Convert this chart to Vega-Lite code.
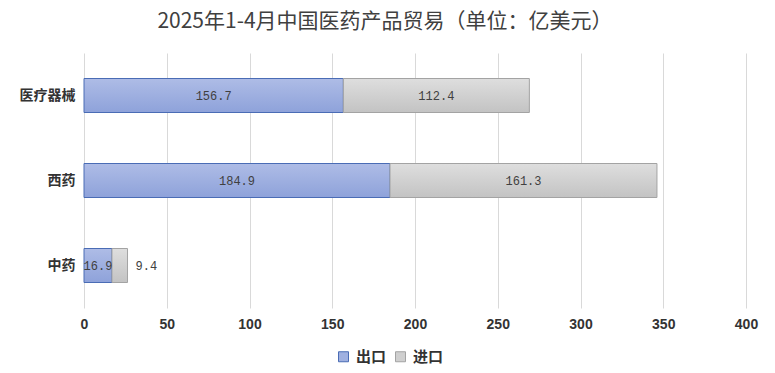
{
  "$schema": "https://vega.github.io/schema/vega-lite/v6.json",
  "width": 662,
  "height": 255,
  "autosize": {"type": "none"},
  "padding": {"left": 84, "top": 53, "right": 29, "bottom": 65},
  "background": "white",
  "title": {
    "text": "2025年1-4月中国医药产品贸易（单位：亿美元）",
    "font": "Noto Sans CJK SC",
    "fontSize": 21,
    "fontWeight": "normal",
    "color": "#404040",
    "anchor": "middle",
    "frame": "group",
    "dx": -30,
    "offset": 21
  },
  "config": {
    "view": {"stroke": null},
    "font": "Noto Sans CJK SC"
  },
  "data": {
    "values": [
      {"cat": "医疗器械", "type": "出口", "value": 156.7},
      {"cat": "医疗器械", "type": "进口", "value": 112.4},
      {"cat": "西药", "type": "出口", "value": 184.9},
      {"cat": "西药", "type": "进口", "value": 161.3},
      {"cat": "中药", "type": "出口", "value": 16.9},
      {"cat": "中药", "type": "进口", "value": 9.4}
    ]
  },
  "transform": [
    {"stack": "value", "groupby": ["cat"], "sort": [{"field": "type", "order": "ascending"}], "as": ["x0", "x1"]},
    {"calculate": "(datum.x0 + datum.x1) / 2", "as": "mid"}
  ],
  "encoding": {
    "y": {
      "field": "cat",
      "type": "nominal",
      "sort": ["医疗器械", "西药", "中药"],
      "scale": {"paddingInner": 0.6, "paddingOuter": 0.3},
      "axis": {
        "title": null,
        "domain": false,
        "ticks": false,
        "grid": false,
        "labelPadding": 9,
        "labelFont": "Noto Sans CJK SC",
        "labelFontSize": 14,
        "labelFontWeight": "bold",
        "labelColor": "#333333"
      }
    }
  },
  "layer": [
    {
      "transform": [{"filter": "datum.type === '出口'"}],
      "mark": {
        "type": "bar",
        "stroke": "#4a6cb5",
        "strokeWidth": 1,
        "color": {
          "gradient": "linear",
          "x1": 0, "y1": 0, "x2": 0, "y2": 1,
          "stops": [
            {"offset": 0, "color": "#aebce6"},
            {"offset": 1, "color": "#8ea2da"}
          ]
        }
      },
      "encoding": {
        "x": {
          "field": "x0",
          "type": "quantitative",
          "scale": {"domain": [0, 400], "nice": false},
          "axis": {
            "title": null,
            "values": [0, 50, 100, 150, 200, 250, 300, 350, 400],
            "domain": false,
            "ticks": false,
            "grid": true,
            "gridColor": "#d9d9d9",
            "gridWidth": 1,
            "labelFlush": false,
            "labelPadding": 9,
            "labelFont": "Liberation Sans",
            "labelFontSize": 14,
            "labelFontWeight": "bold",
            "labelColor": "#333333"
          }
        },
        "x2": {"field": "x1"}
      }
    },
    {
      "transform": [{"filter": "datum.type === '进口'"}],
      "mark": {
        "type": "bar",
        "stroke": "#a3a3a3",
        "strokeWidth": 1,
        "color": {
          "gradient": "linear",
          "x1": 0, "y1": 0, "x2": 0, "y2": 1,
          "stops": [
            {"offset": 0, "color": "#dedede"},
            {"offset": 1, "color": "#c3c3c3"}
          ]
        }
      },
      "encoding": {
        "x": {"field": "x0", "type": "quantitative"},
        "x2": {"field": "x1"}
      }
    },
    {
      "mark": {"type": "square", "opacity": 0, "size": 1},
      "encoding": {
        "x": {"field": "x0", "type": "quantitative"},
        "fill": {
          "field": "type",
          "type": "nominal",
          "scale": {"domain": ["出口", "进口"], "range": ["#9fb0e0", "#cfcfcf"]},
          "legend": {
            "title": null,
            "orient": "none",
            "legendX": 252,
            "legendY": 296,
            "direction": "horizontal",
            "symbolType": "square",
            "symbolSize": 100,
            "symbolOpacity": 1,
            "symbolStrokeWidth": 1,
            "labelFont": "Noto Sans CJK SC",
            "labelFontSize": 15,
            "labelFontWeight": "bold",
            "labelColor": "#333333",
            "labelOffset": 5,
            "columnPadding": 6
          }
        },
        "stroke": {
          "field": "type",
          "type": "nominal",
          "scale": {"domain": ["出口", "进口"], "range": ["#4a6cb5", "#a3a3a3"]},
          "legend": null
        }
      }
    },
    {
      "transform": [{"filter": "datum.value >= 12"}],
      "mark": {"type": "text", "font": "Liberation Mono", "fontSize": 12, "color": "#404040", "align": "center", "baseline": "middle"},
      "encoding": {
        "x": {"field": "mid", "type": "quantitative"},
        "text": {"field": "value", "type": "quantitative", "format": ".1f"}
      }
    },
    {
      "transform": [{"filter": "datum.value < 12"}],
      "mark": {"type": "text", "font": "Liberation Mono", "fontSize": 12, "color": "#404040", "align": "left", "baseline": "middle", "dx": 8},
      "encoding": {
        "x": {"field": "x1", "type": "quantitative"},
        "text": {"field": "value", "type": "quantitative", "format": ".1f"}
      }
    }
  ]
}
